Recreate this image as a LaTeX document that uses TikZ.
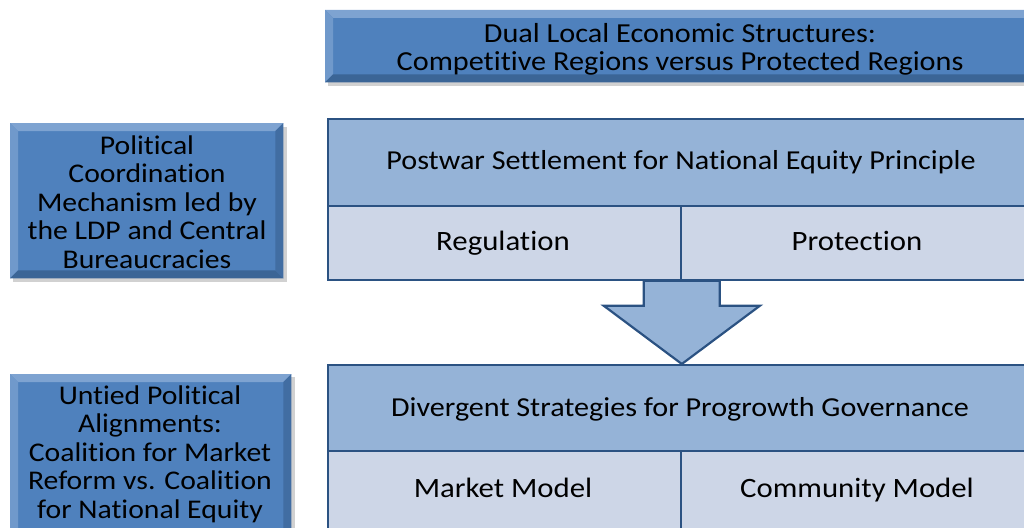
\documentclass[tikz,border=0pt]{standalone}
\usepackage{fontspec}
\setmainfont{Carlito}[Ligatures=NoCommon, FakeStretch=1.1]
\usepackage{tikz}
\usetikzlibrary{calc}

\definecolor{boxdark}{HTML}{4F81BD}
\definecolor{boxlite}{HTML}{7EA3D1}
\definecolor{boxdeep}{HTML}{3B6596}
\definecolor{headfill}{HTML}{95B3D7}
\definecolor{rowfill}{HTML}{CDD6E7}
\definecolor{edgeblue}{HTML}{2B5282}

\tikzset{
    bevelbox/.style={fill=boxdark, inner sep=0pt},
    headcell/.style={draw=edgeblue, line width=1.8pt, fill=headfill, inner sep=0pt},
    rowcell/.style={draw=edgeblue, line width=1.8pt, fill=rowfill, inner sep=0pt},
    celltext/.style={anchor=base, font=\fontsize{28}{30}\selectfont},
    sidetext/.style={align=center, font=\fontsize{27}{28.5}\selectfont},
    arrowbox/.style={draw=edgeblue, line width=2.2pt, fill=headfill, line join=miter}
}

% bevel edges of a dark box: #1 = node name
\newcommand{\bevel}[1]{
    \fill[boxlite] (#1.north west) -- (#1.north east) -- ($(#1.north east)+(-8,8)$) -- ($(#1.north west)+(8,8)$) -- cycle;
    \fill[boxlite!70!boxdark] (#1.north west) -- (#1.south west) -- ($(#1.south west)+(8,-8)$) -- ($(#1.north west)+(8,8)$) -- cycle;
    \fill[boxdeep] (#1.south west) -- (#1.south east) -- ($(#1.south east)+(-8,-8)$) -- ($(#1.south west)+(8,-8)$) -- cycle;
    \fill[boxdeep!70!boxdark] (#1.north east) -- (#1.south east) -- ($(#1.south east)+(-8,-8)$) -- ($(#1.north east)+(-8,8)$) -- cycle;
}

\begin{document}
\begin{tikzpicture}[x=1pt, y=-1pt]
    \useasboundingbox (0,0) rectangle (1024,527);
    % Shadows
    \fill[black!18] (328,13) rectangle (1040,86);
    \fill[black!18] (13,127) rectangle (287,282);
    \fill[black!18] (13,377) rectangle (295,540);
    % Dual structures
    \node[bevelbox, minimum width=710pt, minimum height=72pt, anchor=north west] (dual) at (325,10) {};
    \bevel{dual}
    \node[sidetext, font=\fontsize{27.5}{28.5}\selectfont] (dualtxt) at (680,49.5) {Dual Local Economic Structures:\\Competitive Regions versus Protected Regions};
    % Political coordination
    \node[bevelbox, minimum width=273pt, minimum height=155pt, anchor=north west] (coord) at (10,123) {};
    \bevel{coord}
    \node[sidetext] (coordtxt) at (147,202) {Political\\Coordination\\Mechanism led by\\the LDP and Central\\Bureaucracies};
    % Untied alignments
    \node[bevelbox, minimum width=281pt, minimum height=165pt, anchor=north west] (untied) at (10,374) {};
    \bevel{untied}
    \node[sidetext] (untiedtxt) at (150,454) {Untied Political\\Alignments:\\Coalition for Market\\Reform vs. Coalition\\for National Equity};
    % Postwar settlement
    \node[headcell, minimum width=710pt, minimum height=87pt, anchor=north west] (settle) at (327,118) {};
    \node[rowcell, minimum width=353pt, minimum height=74pt, anchor=north west] (regul) at (327,205) {};
    \node[rowcell, minimum width=357pt, minimum height=74pt, anchor=north west] (protect) at (680,205) {};
    \node[celltext, font=\fontsize{27.4}{30}\selectfont] (settletxt) at (681,169) {Postwar Settlement for National Equity Principle};
    \node[celltext] (regultxt) at (503,250) {Regulation};
    \node[celltext] (protecttxt) at (857,250) {Protection};
    % Progrowth strategies
    \node[headcell, minimum width=710pt, minimum height=86pt, anchor=north west] (diverge) at (327,364) {};
    \node[rowcell, minimum width=353pt, minimum height=90pt, anchor=north west] (market) at (327,450) {};
    \node[rowcell, minimum width=357pt, minimum height=90pt, anchor=north west] (commun) at (680,450) {};
    \node[celltext, font=\fontsize{27.4}{30}\selectfont] (divergetxt) at (680,416) {Divergent Strategies for Progrowth Governance};
    \node[celltext] (markettxt) at (503,497) {Market Model};
    \node[celltext] (communtxt) at (857,497) {Community Model};
    % Block arrow
    \coordinate (shaft) at (regul.south east);
    \coordinate (tip) at (diverge.north -| regul.south east);
    \draw[arrowbox] (shaft) ++(-38,0) -- ++(0,25) -- ++(-40,0) -- (tip)
        -- ($(shaft)+(78,25)$) -- ++(-40,0) -- ++(0,-25) -- cycle;
\end{tikzpicture}
\end{document}
